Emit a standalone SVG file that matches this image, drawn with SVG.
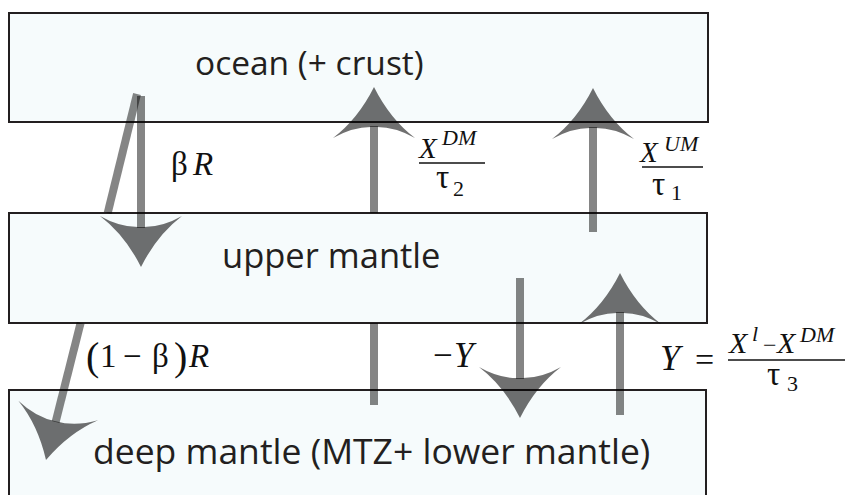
<svg xmlns="http://www.w3.org/2000/svg" xmlns:xlink="http://www.w3.org/1999/xlink" width="853" height="495" viewBox="0 0 853 495">
<style>
.box{fill:#f6fbfc;stroke:#231f20;stroke-width:2}
.lbl{font-family:"Open Sans","Liberation Sans",sans-serif;fill:#231f20}
.m{font-family:"Liberation Serif","Times New Roman",serif;fill:#111}
.i{font-style:italic}
.shaft{stroke:#000;stroke-opacity:.48;stroke-width:8;fill:none}
.head{fill:#000;fill-opacity:.56}
.frac{stroke:#111;stroke-width:1.5}
</style>
<defs>
<path id="ah" d="M0,0 Q16,32 41,51 Q20,39 0,40 Q-20,39 -41,51 Q-16,32 0,0 Z"/>
</defs>
<rect width="853" height="495" fill="#ffffff"/>
<g id="ocean">
<rect class="box" x="9" y="13" width="699" height="109"/>
<text class="lbl" x="195" y="75" font-size="33.5">ocean (+ crust)</text>
</g>
<g id="upper-mantle">
<rect class="box" x="9" y="213" width="698" height="110"/>
<text class="lbl" x="222" y="268" font-size="34.5">upper mantle</text>
</g>
<g id="deep-mantle">
<rect class="box" x="9" y="390" width="697" height="120"/>
<text class="lbl" x="93" y="464" font-size="35.5">deep mantle (MTZ+ lower mantle)</text>
</g>
<g id="connectors">
<line class="shaft" x1="141" y1="96" x2="141" y2="228"/>
<use href="#ah" class="head" transform="translate(141,267) rotate(180)"/>
<line class="shaft" x1="137" y1="94" x2="107.7" y2="213"/>
<line class="shaft" x1="80.6" y1="323" x2="55.6" y2="422"/>
<use href="#ah" class="head" transform="translate(46,460) rotate(193.8)"/>
<line class="shaft" x1="374" y1="126" x2="374" y2="213"/>
<line class="shaft" x1="374" y1="323" x2="374" y2="405"/>
<use href="#ah" class="head" transform="translate(374,87)"/>
<line class="shaft" x1="593" y1="127" x2="593" y2="232"/>
<use href="#ah" class="head" transform="translate(593,88)"/>
<line class="shaft" x1="520" y1="278" x2="520" y2="379"/>
<use href="#ah" class="head" transform="translate(520,418) rotate(180)"/>
<line class="shaft" x1="620" y1="312" x2="620" y2="415"/>
<use href="#ah" class="head" transform="translate(620,273)"/>
</g>
<g id="labels">
<text class="m" y="175" font-size="33"><tspan x="171">β</tspan><tspan x="193" class="i">R</tspan></text>
<g id="xdm-tau2">
<text class="m i" x="419" y="158" font-size="29">X</text>
<text class="m i" x="442" y="145" font-size="22">DM</text>
<line class="frac" x1="419" y1="163" x2="485" y2="163"/>
<text class="m" x="436" y="188" font-size="33">τ</text>
<text class="m" x="453" y="196" font-size="22">2</text>
</g>
<g id="xum-tau1">
<text class="m i" x="640" y="162" font-size="29">X</text>
<text class="m i" x="664" y="151" font-size="22">UM</text>
<line class="frac" x1="642" y1="167" x2="703" y2="167"/>
<text class="m" x="652" y="195" font-size="33">τ</text>
<text class="m" x="671" y="200" font-size="22">1</text>
</g>
<text class="m" y="367" font-size="33"><tspan x="86" font-size="40" dy="3">(</tspan><tspan x="100" dy="-3">1</tspan><tspan x="123">−</tspan><tspan x="152">β</tspan><tspan x="174" font-size="40" dy="3">)</tspan><tspan x="189" dy="-3" class="i">R</tspan></text>
<text class="m" y="367" font-size="35"><tspan x="433">−</tspan><tspan x="454" class="i">Y</tspan></text>
<g id="y-eq">
<text class="m i" x="660" y="370" font-size="36">Y</text>
<text class="m" x="695" y="371" font-size="34">=</text>
<text class="m i" x="729" y="353" font-size="30">X</text>
<text class="m i" x="752" y="341" font-size="22">l</text>
<text class="m" x="763" y="353" font-size="24">−</text>
<text class="m i" x="777" y="353" font-size="30">X</text>
<text class="m i" x="800" y="342" font-size="22">DM</text>
<line class="frac" x1="728" y1="360" x2="845" y2="360"/>
<text class="m" x="767" y="385" font-size="33">τ</text>
<text class="m" x="787" y="391" font-size="22">3</text>
</g>
</g>
</svg>
